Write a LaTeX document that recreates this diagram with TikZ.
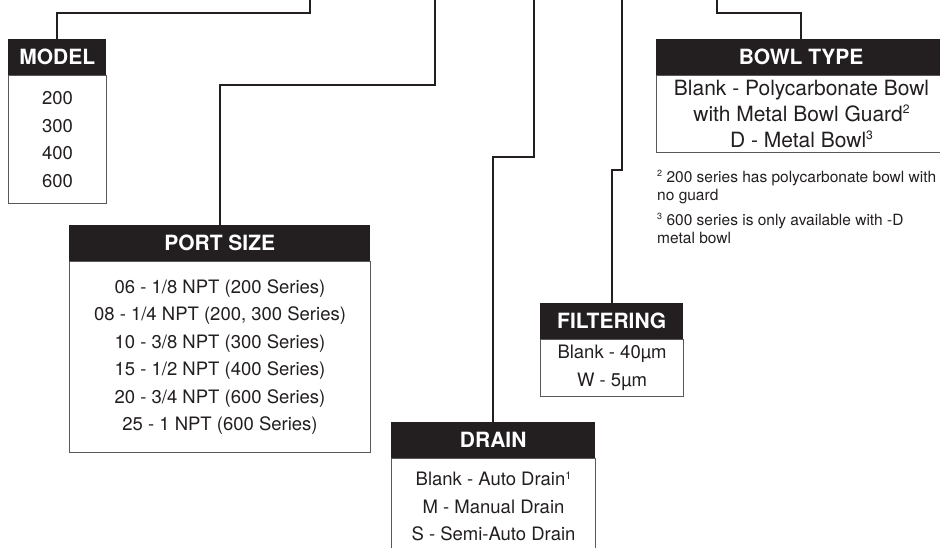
\documentclass[tikz,border=0pt]{standalone}
\usepackage{graphicx}
\usepackage{fontspec}
\setmainfont{TeX Gyre Heros}
\definecolor{ink}{HTML}{231F20}
\newcommand{\supnum}[1]{\raisebox{0.36em}{\scalebox{0.58}{#1}}}
\begin{document}
\begin{tikzpicture}[x=1pt,y=-1pt,
  hdrbox/.style={fill=ink, draw=none, text=white, font=\fontsize{21}{25}\selectfont\bfseries, anchor=north west, inner sep=0pt, minimum height=36pt},
  bodybox/.style={draw=ink!75, line width=1pt, fill=white, anchor=north west, inner sep=0pt, align=center, text=ink, font=\fontsize{18.5}{27.5}\selectfont},
  conn/.style={draw=ink, line width=2.2pt},
  foot/.style={anchor=base west, inner sep=0pt, text=ink, font=\fontsize{15.5}{18}\selectfont}
]
\useasboundingbox (0,0) rectangle (940,548);
\clip (0,0) rectangle (940,548);

% MODEL
\node[bodybox, minimum width=98pt, minimum height=128pt] (mb) at (8,75) {200\\300\\400\\600};
\node[hdrbox, minimum width=98pt] (mh) at (8,39) {MODEL};

% PORT SIZE
\node[bodybox, minimum width=301pt, minimum height=191pt] (pb) at (69,261)
  {06 - 1/8 NPT (200 Series)\\08 - 1/4 NPT (200, 300 Series)\\10 - 3/8 NPT (300 Series)\\15 - 1/2 NPT (400 Series)\\20 - 3/4 NPT (600 Series)\\25 - 1 NPT (600 Series)};
\node[hdrbox, minimum width=301pt] (ph) at (69,225) {PORT SIZE};

% DRAIN
\node[bodybox, minimum width=204pt, minimum height=96pt] (db) at (391,458)
  {Blank - Auto Drain\supnum{1}\\M - Manual Drain\\S - Semi-Auto Drain};
\node[hdrbox, minimum width=204pt] (dh) at (391,422) {DRAIN};

% FILTERING
\node[bodybox, minimum width=143pt, minimum height=57pt] (fb) at (540,339)
  {Blank - 40µm\\W - 5µm};
\node[hdrbox, minimum width=143pt] (fh) at (540,303) {FILTERING};

% BOWL TYPE
\node[bodybox, minimum width=290pt, minimum height=77pt, font=\fontsize{21}{26}\selectfont] (bb) at (656,75)
  {Blank - Polycarbonate Bowl\\with Metal Bowl Guard\supnum{2}\\D - Metal Bowl\supnum{3}};
\node[hdrbox, minimum width=290pt] (bh) at (656,39) {BOWL TYPE};

% footnotes
\node[foot] (f2a) at (657,182.5) {\supnum{2} 200 series has polycarbonate bowl with};
\node[foot] (f2b) at (657,200.5) {no guard};
\node[foot] (f3a) at (657,225.5) {\supnum{3} 600 series is only available with -D};
\node[foot] (f3b) at (657,243.5) {metal bowl};

% connectors
\coordinate (m0) at (310,0);
\coordinate (p0) at (435,0);
\coordinate (d0) at (534,0);
\coordinate (f0) at (622,0);
\coordinate (b0) at (717,0);
\draw[conn] (m0) |- (mh.north |- 0,13) -- (mh.north);
\draw[conn] (p0) |- (ph.north |- 0,85) -- (ph.north);
\draw[conn] (d0) |- (dh.north |- 0,157) -- (dh.north);
\draw[conn] (f0) |- (fh.north |- 0,170) -- (fh.north);
\draw[conn] (b0) |- (bh.north |- 0,13) -- (bh.north);
\end{tikzpicture}
\end{document}
